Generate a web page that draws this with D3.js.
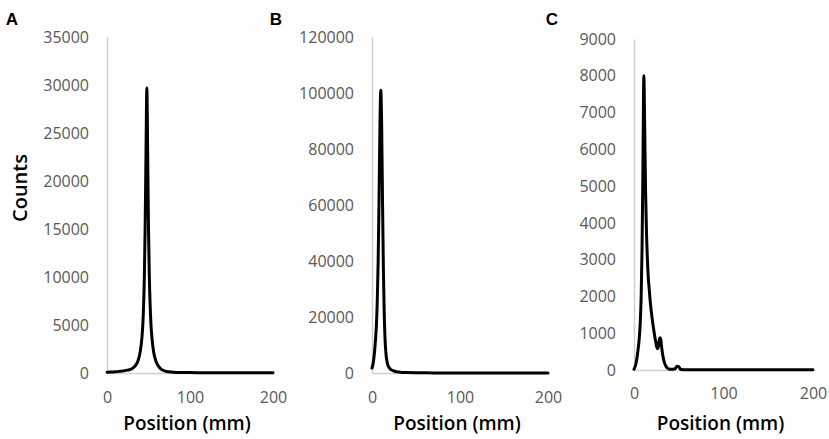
<!DOCTYPE html>
<html>
<head>
<meta charset="utf-8">
<script src="https://cdn.jsdelivr.net/npm/d3@7"></script>
<style>
  html, body { margin: 0; padding: 0; background: #ffffff; }
  svg { display: block; }
</style>
</head>
<body>
<svg id="chart" width="829" height="439"></svg>
<script>
// ---- Data ----
const panelLetters = ["A", "B", "C"];
const xTicks = [0, 100, 200];

const posA    = [0, 5, 10, 15, 20, 25, 30, 33, 36, 38, 40, 42, 43, 44, 45, 46, 47, 48, 49, 50, 51, 52, 53, 54, 56, 58, 60, 63, 66, 70, 75, 80, 90, 100, 120, 150, 200];
const countsA = [80, 100, 130, 170, 220, 300, 450, 650, 1000, 1450, 2200, 3600, 4800, 6800, 10000, 15500, 23000, 29700, 23000, 15000, 10000, 7000, 5000, 3800, 2300, 1500, 1000, 600, 350, 200, 120, 80, 50, 40, 30, 20, 15];
const yTicksA = [0, 5000, 10000, 15000, 20000, 25000, 30000, 35000];

const posB    = [0, 1, 2, 3, 4, 5, 6, 7, 8, 9, 10, 11, 12, 13, 14, 15, 16, 17, 18, 20, 22, 25, 28, 32, 40, 50, 70, 100, 150, 200];
const countsB = [1800, 3000, 5000, 8000, 12000, 17000, 26000, 40000, 62000, 88000, 101000, 88000, 60000, 36000, 20000, 11000, 6500, 4200, 2800, 1700, 1100, 700, 450, 300, 150, 80, 40, 20, 10, 5];
const yTicksB = [0, 20000, 40000, 60000, 80000, 100000, 120000];

const posC    = [0, 2, 4, 6, 7, 8, 9, 10, 11, 12, 13, 14, 15, 16, 17, 18, 20, 22, 24, 26, 27, 28, 29, 30, 31, 32, 34, 36, 38, 42, 46, 48, 50, 52, 55, 60, 80, 100, 150, 200];
const countsC = [20, 150, 450, 900, 1300, 2000, 3300, 5600, 8000, 6500, 4800, 3700, 3000, 2500, 2200, 1900, 1450, 1100, 800, 580, 620, 780, 880, 820, 600, 420, 200, 90, 40, 20, 40, 100, 90, 20, 10, 10, 5, 5, 5, 5];
const yTicksC = [0, 1000, 2000, 3000, 4000, 5000, 6000, 7000, 8000, 9000];

const xLabel = "Position (mm)";
const yLabel = "Counts";

// ---- Layout ----
const panels = [
  { letter: panelLetters[0], pos: posA, counts: countsA, yTicks: yTicksA,
    x0: 107, x1: 273, yBottom: 373, yTop: 37, letterX: 12, tickY: 399 },
  { letter: panelLetters[1], pos: posB, counts: countsB, yTicks: yTicksB,
    x0: 372, x1: 548, yBottom: 373, yTop: 37, letterX: 276, tickY: 399 },
  { letter: panelLetters[2], pos: posC, counts: countsC, yTicks: yTicksC,
    x0: 634, x1: 813, yBottom: 370, yTop: 39, letterX: 552, tickY: 395 }
];

const svg = d3.select("#chart");
const FONT = "'Open Sans', 'Noto Sans', sans-serif";

panels.forEach(p => {
  const yMax = p.yTicks[p.yTicks.length - 1];
  const x = d3.scaleLinear().domain([0, 200]).range([p.x0, p.x1]);
  const y = d3.scaleLinear().domain([0, yMax]).range([p.yBottom, p.yTop]);

  const g = svg.append("g");

  // Y axis (line + labels, no tick marks)
  const yAxis = d3.axisLeft(y).tickValues(p.yTicks).tickSize(0).tickPadding(18)
    .tickFormat(d3.format("d"));
  const gy = g.append("g").attr("transform", `translate(${p.x0},0)`).call(yAxis);
  gy.select(".domain").attr("stroke", "#d0d0d0").attr("stroke-width", 1.5);
  gy.selectAll("text").attr("fill", "#595959").style("font-family", FONT)
    .style("font-size", "16px");

  // X axis
  const xAxis = d3.axisBottom(x).tickValues(xTicks).tickSize(0)
    .tickPadding(p.tickY - p.yBottom - 7).tickFormat(d3.format("d"));
  const gx = g.append("g").attr("transform", `translate(0,${p.yBottom})`).call(xAxis);
  gx.select(".domain").attr("stroke", "#d0d0d0").attr("stroke-width", 1.5);
  gx.selectAll("text").attr("fill", "#595959").style("font-family", FONT)
    .style("font-size", "16px");

  // Curve
  const pts = p.pos.map((v, i) => [v, p.counts[i]]);
  const line = d3.line().x(d => x(d[0])).y(d => y(d[1])).curve(d3.curveMonotoneX);
  g.append("path").datum(pts).attr("d", line)
    .attr("fill", "none").attr("stroke", "#000").attr("stroke-width", 3)
    .attr("stroke-linejoin", "round").attr("stroke-linecap", "round");

  // X title
  g.append("text").attr("x", (p.x0 + p.x1) / 2 - 3).attr("y", 430)
    .attr("text-anchor", "middle").attr("fill", "#000")
    .style("font-family", FONT).style("font-size", "19px").style("font-weight", 600)
    .text(xLabel);

  // Panel letter
  g.append("text").attr("x", p.letterX).attr("y", 25)
    .attr("text-anchor", "middle").attr("fill", "#000")
    .style("font-family", "'Liberation Sans', Arial, sans-serif")
    .style("font-size", "17px").style("font-weight", 700)
    .text(p.letter);
});

// Y title
svg.append("text").attr("transform", "translate(27,188) rotate(-90)")
  .attr("text-anchor", "middle").attr("fill", "#000")
  .style("font-family", FONT).style("font-size", "20px").style("font-weight", 600)
  .text(yLabel);
</script>
</body>
</html>
